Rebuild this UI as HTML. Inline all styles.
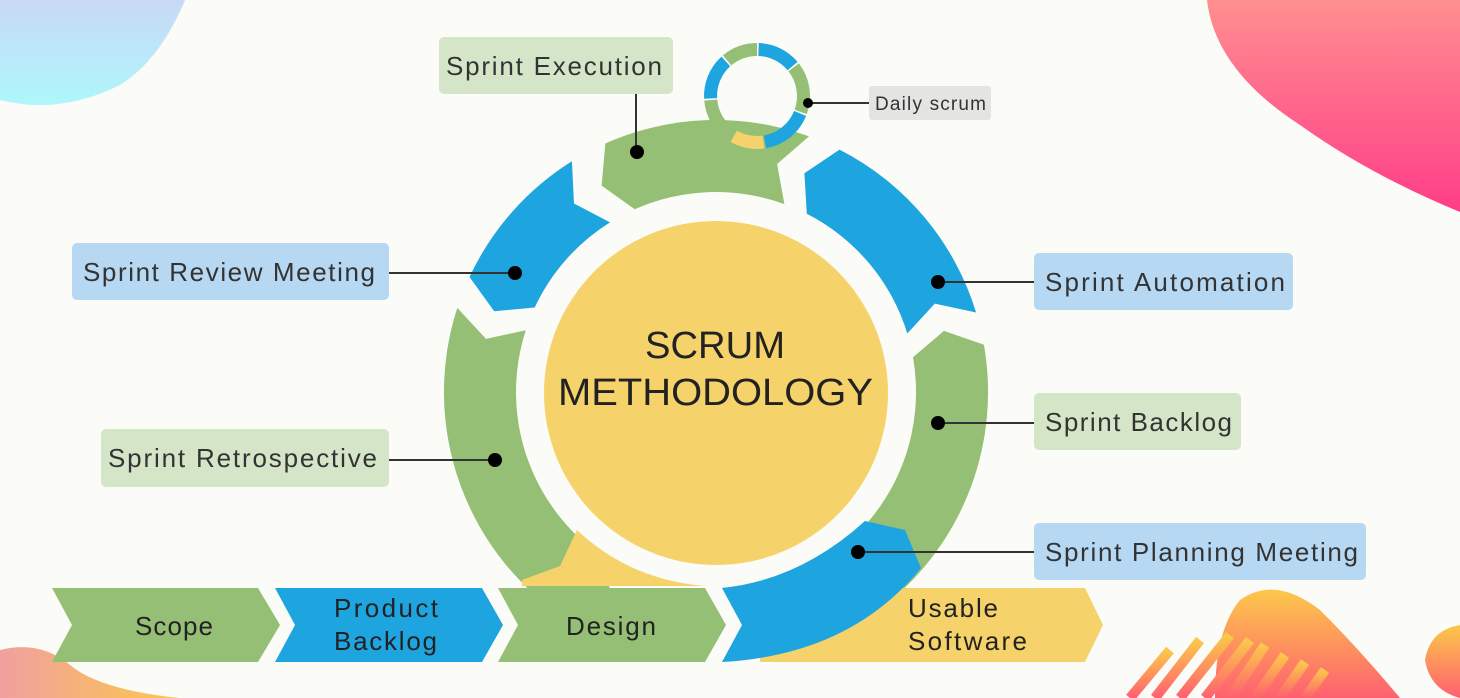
<!DOCTYPE html>
<html><head><meta charset="utf-8"><style>
html,body{margin:0;padding:0;background:#fbfbf8;}
body{width:1460px;height:698px;overflow:hidden;position:relative;font-family:"Liberation Sans",sans-serif;}
svg{position:absolute;left:0;top:0;}
</style></head><body>
<svg id="s" width="1460" height="698" viewBox="0 0 1460 698" xmlns="http://www.w3.org/2000/svg">
<defs>
<linearGradient id="gtl" x1="0" y1="0" x2="0" y2="1"><stop offset="0" stop-color="#c9d8f6"/><stop offset="1" stop-color="#aef7fb"/></linearGradient>
<linearGradient id="gtr" x1="0" y1="0" x2="0" y2="1"><stop offset="0" stop-color="#ff8f8f"/><stop offset="1" stop-color="#ff3d88"/></linearGradient>
<linearGradient id="gbr" x1="0" y1="0" x2="0" y2="1"><stop offset="0" stop-color="#fcc84a"/><stop offset="1" stop-color="#ff6070"/></linearGradient>
<linearGradient id="gbl" x1="0" y1="0" x2="1" y2="0"><stop offset="0" stop-color="#f0a0a0"/><stop offset="1" stop-color="#fcc84a"/></linearGradient>
</defs>
<path d="M0 0 L185 0 Q160 60 120 85 Q60 115 0 100 Z" fill="url(#gtl)"/>
<path d="M1207 0 L1460 0 L1460 212 Q1370 175 1300 125 Q1215 70 1207 0 Z" fill="url(#gtr)"/>
<path d="M1215 698 Q1215 630 1240 600 Q1275 575 1320 610 Q1360 650 1400 698 Z" fill="url(#gbr)"/>
<g stroke="url(#gbr)" stroke-width="10">
<line x1="1130" y1="698" x2="1170" y2="650"/><line x1="1155" y1="698" x2="1200" y2="640"/>
<line x1="1180" y1="698" x2="1230" y2="635"/><line x1="1205" y1="698" x2="1250" y2="640"/>
<line x1="1230" y1="698" x2="1265" y2="645"/><line x1="1255" y1="698" x2="1285" y2="655"/>
<line x1="1280" y1="698" x2="1305" y2="662"/><line x1="1305" y1="698" x2="1325" y2="670"/>
</g>
<path d="M1460 625 Q1430 630 1425 660 Q1430 690 1460 698 Z" fill="url(#gbr)"/>
<path d="M0 650 Q40 640 70 665 Q100 690 180 698 L0 698 Z" fill="url(#gbl)"/>

<g id="ring"></g>

<path d="M577 530 Q630 580 705 586 L522 586 L522 580 L560 566 Z" fill="#f6d36a"/>
<circle cx="716" cy="393" r="172" fill="#f6d36a"/>
<text x="645" y="358" font-size="38" fill="#222" textLength="140" lengthAdjust="spacingAndGlyphs">SCRUM</text>
<text x="558" y="405" font-size="38" fill="#222" textLength="315" lengthAdjust="spacingAndGlyphs">METHODOLOGY</text>

<!-- bottom chevrons -->
<path d="M760 588 L1085 588 L1103 625 L1085 662 L760 662 Z" fill="#f6d36a"/>
<path d="M52 588 L258 588 L280 625 L258 662 L52 662 L72 625 Z" fill="#95bf74"/>
<path d="M275 588 L482 588 L503 625 L482 662 L275 662 L295 625 Z" fill="#1ea5e0"/>
<path d="M498 588 L705 588 L726 625 L705 662 L498 662 L518 625 Z" fill="#95bf74"/>
<path d="M722 588 Q800 580 865 521 L905 530 L921 568 Q850 655 722 662 L742 625 Z" fill="#1ea5e0"/>
<g font-size="26" fill="#222" lengthAdjust="spacingAndGlyphs">
<text x="135" y="635" textLength="78">Scope</text>
<text x="334" y="617" textLength="104">Product</text><text x="334" y="650" textLength="103">Backlog</text>
<text x="566" y="635" textLength="90">Design</text>
<text x="908" y="617" textLength="90">Usable</text><text x="908" y="650" textLength="119">Software</text>
</g>

<!-- small ring -->
<g id="small"></g>

<!-- connectors -->
<g stroke="#333" stroke-width="2">
<line x1="389" y1="273" x2="515" y2="273"/>
<line x1="938" y1="282" x2="1034" y2="282"/>
<line x1="938" y1="423" x2="1034" y2="423"/>
<line x1="389" y1="460" x2="495" y2="460"/>
<line x1="858" y1="552" x2="1034" y2="552"/>
<line x1="636" y1="94" x2="636" y2="152"/>
<line x1="808" y1="103" x2="869" y2="103"/>
</g>
<g fill="#000">
<circle cx="515" cy="273" r="7"/><circle cx="938" cy="282" r="7"/><circle cx="938" cy="423" r="7"/>
<circle cx="495" cy="460" r="7"/><circle cx="858" cy="552" r="7"/><circle cx="637" cy="152" r="7"/>
<circle cx="808" cy="103" r="5"/>
</g>

<!-- labels -->
<g font-size="26" fill="#333" lengthAdjust="spacingAndGlyphs">
<rect x="439" y="37" width="234" height="57" rx="5" fill="#d5e6c8"/><text x="446" y="75" textLength="216">Sprint Execution</text>
<rect x="869" y="86" width="122" height="34" rx="3" fill="#e4e4e2"/><text x="875" y="110" font-size="19" textLength="111">Daily scrum</text>
<rect x="72" y="243" width="317" height="57" rx="5" fill="#b7d8f2"/><text x="83" y="281" textLength="292">Sprint Review Meeting</text>
<rect x="1034" y="253" width="259" height="57" rx="5" fill="#b7d8f2"/><text x="1045" y="291" textLength="240">Sprint Automation</text>
<rect x="1034" y="393" width="207" height="57" rx="5" fill="#d5e6c8"/><text x="1045" y="431" textLength="187">Sprint Backlog</text>
<rect x="101" y="429" width="288" height="58" rx="5" fill="#d5e6c8"/><text x="108" y="467" textLength="269">Sprint Retrospective</text>
<rect x="1034" y="523" width="332" height="57" rx="5" fill="#b7d8f2"/><text x="1045" y="561" textLength="313">Sprint Planning Meeting</text>
</g>
</svg>
<script>
(function(){
var cx=716,cy=392,ro=272,ri=200,rm=236,t=5;
function P(a,r){var q=(a-90)*Math.PI/180;return (cx+r*Math.cos(q)).toFixed(1)+" "+(cy+r*Math.sin(q)).toFixed(1);}
function seg(a1,a2,col){
 var d="M"+P(a1,ro)+" A"+ro+" "+ro+" 0 0 1 "+P(a2,ro)+" L"+P(a2-t,rm)+" L"+P(a2,ri)+" A"+ri+" "+ri+" 0 0 0 "+P(a1,ri)+" L"+P(a1-t,rm)+" Z";
 return '<path d="'+d+'" fill="'+col+'"/>';
}
var g=document.getElementById("ring");
g.innerHTML=seg(-24,20,"#95bf74")+seg(27,73,"#1ea5e0")+seg(80,140,"#95bf74")+seg(212,288,"#95bf74")+seg(295,328,"#1ea5e0");
var scx=757,scy=96,sro=53,sri=40;
function Q(a,r){var q=(a-90)*Math.PI/180;return (scx+r*Math.cos(q)).toFixed(1)+" "+(scy+r*Math.sin(q)).toFixed(1);}
function ss(a1,a2,col){return '<path d="M'+Q(a1,sro)+' A'+sro+' '+sro+' 0 0 1 '+Q(a2,sro)+' L'+Q(a2,sri)+' A'+sri+' '+sri+' 0 0 0 '+Q(a1,sri)+' Z" fill="'+col+'"/>';}
var cols=[[-40,0,"#95bf74"],[2,50,"#1ea5e0"],[52,110,"#95bf74"],[112,170,"#1ea5e0"],[172,210,"#f6d36a"],[212,265,"#95bf74"],[267,318,"#1ea5e0"]];
var h="";cols.forEach(function(c){h+=ss(c[0],c[1],c[2]);});
document.getElementById("small").innerHTML=h;
})();
</script>
</body></html>
